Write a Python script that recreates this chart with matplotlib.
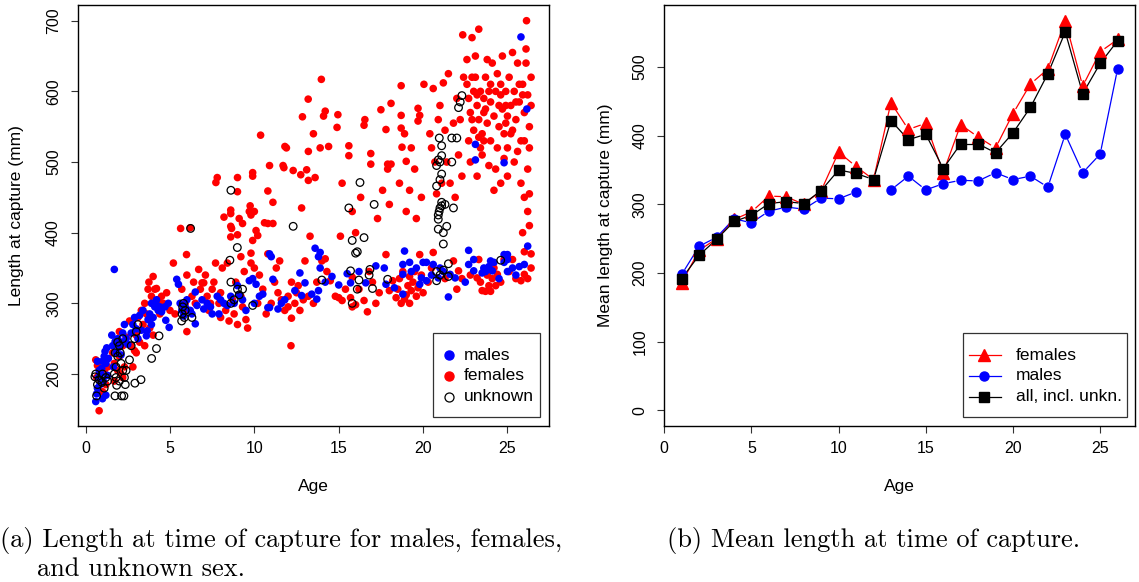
import numpy as np
import matplotlib
matplotlib.use("Agg")
import matplotlib.pyplot as plt
from matplotlib.lines import Line2D
from matplotlib.patches import Rectangle

plt.rcParams['font.family'] = ['Liberation Sans', 'DejaVu Sans']

# (age, length at capture in mm) for each fish, by sex
males = [
    (0.6, 161), (0.65, 172), (0.7, 218), (0.75, 195), (0.8, 205), (0.85, 185), (0.9, 200),
    (0.95, 208), (1.0, 218), (1.05, 190), (1.1, 225), (1.15, 232), (1.2, 215), (1.25, 237),
    (1.3, 198), (1.35, 222), (0.7, 180), (1.0, 165), (1.2, 170),
    (1.55, 255), (1.6, 240), (1.7, 348), (1.75, 246), (1.8, 230), (1.9, 250), (2.0, 238),
    (2.1, 227), (2.2, 258), (2.3, 270), (2.15, 245), (1.65, 210), (2.4, 250), (2.5, 242),
    (2.7, 258), (2.8, 270), (3.0, 264), (2.9, 280), (3.2, 283), (3.3, 262), (3.4, 290), (3.1, 250),
    (3.6, 254), (3.65, 261), (3.7, 277), (3.8, 285), (3.9, 270), (4.0, 280), (4.1, 295),
    (4.2, 298), (4.3, 290), (4.4, 295), (4.5, 288), (4.7, 295), (4.75, 276), (4.9, 300),
    (4.95, 266), (4.2, 305), (3.9, 300),
    (5.4, 334), (5.5, 327), (5.6, 300), (5.7, 290), (5.8, 282), (5.9, 295), (6.0, 305),
    (6.2, 290), (6.3, 285), (6.5, 316), (6.5, 271), (6.6, 297), (6.9, 305), (7.0, 292),
    (7.2, 300), (7.4, 295), (7.5, 285), (7.8, 310), (7.9, 285), (8.0, 305), (8.2, 300),
    (8.4, 297), (8.6, 310), (8.8, 300), (9.0, 325), (9.1, 312), (9.3, 305), (9.5, 290),
    (9.7, 332), (9.9, 335), (10.1, 327), (10.0, 300), (10.3, 310), (10.5, 313), (10.8, 294),
    (10.9, 294), (11.0, 366), (11.1, 334), (11.4, 292), (11.6, 300), (11.8, 305), (10.9, 370),
    (12.7, 343), (13.0, 329), (12.8, 311), (13.4, 313), (13.6, 378), (13.8, 366), (13.9, 372),
    (13.9, 350), (13.7, 306), (13.8, 318), (14.2, 330), (15.0, 326), (15.5, 342), (15.7, 329),
    (16.6, 329), (17.2, 353), (17.7, 350), (17.8, 327), (18.8, 355), (18.8, 341), (18.8, 313),
    (18.9, 374), (19.2, 358), (19.6, 350), (19.8, 327), (20.0, 358), (20.2, 358), (19.9, 336),
    (20.2, 332), (20.6, 355), (21.0, 350), (20.9, 336), (21.6, 341), (21.9, 336), (21.5, 309),
    (19.3, 345), (20.5, 340), (21.2, 345), (12.4, 318), (14.6, 338), (16.2, 345), (18.3, 322),
    (22.7, 375), (22.7, 355), (23.0, 346), (23.5, 343), (23.6, 350), (23.7, 345), (24.1, 346),
    (24.2, 358), (24.8, 369), (25.0, 369), (24.8, 358), (25.0, 345), (25.7, 352), (23.1, 525),
    (23.1, 503), (24.8, 499), (25.8, 677), (26.15, 575), (26.2, 381), (23.0, 362), (24.0, 360),
    (25.0, 362), (26.0, 355), (25.5, 340), (22.5, 330), (24.5, 335), (23.9, 352), (25.3, 350),
]

females = [
    (0.8, 148), (0.6, 220), (0.7, 212), (0.8, 200), (0.9, 192), (1.0, 175), (1.1, 205),
    (1.2, 185), (0.65, 195), (1.3, 210),
    (1.6, 230), (1.7, 215), (1.8, 245), (1.9, 205), (2.0, 225), (2.1, 200), (2.2, 240),
    (2.3, 210), (2.4, 252), (1.7, 190), (2.0, 260), (2.2, 195),
    (2.6, 275), (2.7, 240), (2.9, 233), (3.0, 255), (3.1, 280), (3.2, 245), (3.3, 290),
    (3.4, 270), (3.5, 300), (3.6, 285), (3.7, 320), (3.75, 330), (3.8, 265), (3.9, 310),
    (4.0, 338), (4.1, 320), (4.2, 321), (4.3, 305), (4.4, 285), (4.5, 310), (3.5, 240),
    (4.0, 255), (2.8, 210), (3.0, 230), (4.6, 300), (4.8, 315), (5.0, 290), (5.2, 357), (5.3, 285),
    (5.63, 406), (5.98, 369), (5.7, 320), (5.9, 300), (6.0, 260), (6.1, 290), (6.3, 310),
    (6.5, 300), (6.7, 348), (6.8, 320), (6.9, 329), (7.0, 329), (7.1, 340), (7.2, 310),
    (7.3, 290), (7.4, 300), (6.2, 407), (6.0, 340), (7.5, 320), (6.4, 330),
    (7.7, 357), (7.72, 471), (8.1, 350), (8.4, 357), (7.8, 478), (9.0, 478), (9.0, 458),
    (8.2, 422), (8.6, 427), (8.6, 432), (9.1, 420), (9.3, 413), (8.6, 409), (8.65, 406),
    (8.6, 394), (9.0, 397), (9.7, 430), (9.75, 438), (9.8, 425), (9.9, 485), (9.9, 480),
    (10.0, 430), (10.1, 403), (9.9, 389), (10.2, 396), (9.2, 366), (9.8, 371), (9.8, 357),
    (7.9, 300), (8.0, 280), (8.3, 290), (8.5, 275), (8.8, 285), (9.0, 270), (9.3, 295),
    (9.5, 277), (9.6, 265), (8.0, 315), (8.7, 305), (9.2, 310), (7.6, 330), (8.9, 330),
    (9.4, 345), (10.0, 350), (10.3, 340), (10.5, 320), (10.2, 300),
    (10.37, 538), (10.9, 495), (11.7, 495), (11.75, 492), (11.9, 520), (10.8, 459), (11.1, 443),
    (10.6, 414), (10.8, 413), (11.1, 413), (10.8, 370), (11.81, 522), (12.3, 488), (11.2, 330),
    (11.4, 315), (11.6, 305), (11.8, 290), (12.0, 310), (11.0, 300), (10.7, 285), (11.3, 350),
    (11.5, 360), (12.17, 240), (12.2, 279), (12.4, 300), (12.5, 315), (12.6, 325), (12.9, 305),
    (12.2, 330), (12.0, 295), (12.7, 290), (13.2, 310), (13.5, 300),
    (12.85, 564), (12.8, 435), (12.75, 482), (13.1, 489), (13.2, 474), (13.2, 515), (13.6, 478),
    (13.19, 589), (13.97, 617), (14.1, 565), (14.2, 572), (13.9, 520), (14.4, 522), (14.9, 549),
    (14.95, 567), (13.5, 540), (14.0, 360), (14.2, 363), (14.5, 332), (13.7, 330), (14.3, 345),
    (14.8, 310), (13.3, 395), (13.0, 360),
    (15.6, 523), (15.6, 509), (16.9, 512), (16.9, 497), (16.5, 552), (16.55, 560), (17.5, 574),
    (17.8, 546), (17.9, 497), (18.1, 497), (17.9, 490), (18.1, 583), (15.2, 470), (15.8, 430),
    (16.3, 450), (17.3, 420), (15.1, 395), (16.0, 400), (17.6, 460), (18.0, 440),
    (15.0, 308), (15.2, 304), (15.7, 308), (15.8, 295), (15.8, 337), (16.7, 288), (16.5, 304),
    (16.2, 320), (17.0, 330), (17.8, 369), (18.2, 332), (18.4, 308), (16.8, 345), (17.4, 315),
    (15.4, 320), (16.0, 298), (17.2, 300), (18.0, 318),
    (18.7, 608), (18.7, 566), (18.7, 548), (18.9, 540), (18.75, 521), (19.0, 501), (19.7, 576),
    (19.7, 558), (19.8, 566), (20.05, 610), (19.2, 460), (19.5, 490), (19.9, 450), (19.0, 430),
    (19.6, 420), (18.6, 470), (19.3, 520),
    (18.9, 306), (18.5, 320), (18.6, 335), (18.8, 345), (19.0, 312), (19.1, 325), (19.2, 338),
    (19.3, 318), (19.4, 330), (19.5, 345), (19.6, 310), (19.7, 322), (19.8, 369), (19.9, 340),
    (20.0, 315), (18.7, 300), (19.2, 300), (20.3, 330),
    (20.6, 604), (21.2, 612), (21.5, 625), (22.35, 680), (20.4, 540), (20.5, 520), (20.7, 500),
    (20.9, 560), (21.0, 580), (21.3, 545), (21.4, 500), (21.6, 470), (21.8, 555), (22.0, 590),
    (22.1, 510), (22.2, 560), (20.8, 455), (21.9, 450), (22.3, 480), (22.4, 620), (21.1, 470),
    (20.6, 372), (22.1, 346), (20.5, 350), (21.3, 335), (22.0, 320), (22.3, 335), (21.8, 360),
    (22.9, 676), (23.3, 688), (26.13, 700), (22.6, 610), (22.7, 590), (22.8, 570), (22.9, 560),
    (23.0, 600), (23.0, 545), (23.1, 620), (23.2, 580), (23.3, 560), (23.4, 600), (23.5, 540),
    (23.6, 590), (23.6, 570), (23.7, 620), (23.8, 555), (23.9, 600), (24.0, 530), (24.0, 585),
    (24.1, 640), (24.2, 565), (24.3, 600), (24.4, 520), (24.5, 580), (24.5, 550), (24.6, 610),
    (24.7, 575), (24.8, 540), (24.9, 600), (25.0, 565), (25.0, 520), (25.1, 620), (25.2, 580),
    (25.3, 545), (25.4, 600), (25.5, 560), (25.6, 640), (25.7, 585), (25.8, 530), (25.9, 610),
    (26.0, 570), (26.1, 640), (26.2, 595), (26.3, 550), (26.4, 620), (26.3, 520), (22.8, 500),
    (23.2, 480), (23.5, 510), (23.9, 495), (24.3, 490), (24.6, 470), (25.0, 480), (25.4, 500),
    (25.8, 470), (26.2, 490), (24.2, 460), (26.3, 455), (23.4, 520), (24.8, 505), (25.6, 515),
    (22.7, 530), (26.1, 660), (25.3, 655), (24.7, 650), (23.8, 645), (23.1, 650), (22.6, 645),
    (25.9, 595), (24.4, 625), (23.6, 530), (25.2, 540), (26.4, 580), (22.9, 620), (24.0, 610),
    (25.7, 610), (26.0, 530), (23.3, 535), (24.9, 555), (26.2, 430), (26.3, 410), (26.0, 450),
    (25.9, 400), (26.4, 370), (23.7, 575), (24.6, 595), (25.5, 585), (23.2, 595), (24.9, 580),
    (23.3, 362), (23.2, 336), (23.4, 330), (23.5, 318), (23.7, 317), (24.0, 317), (23.8, 340),
    (24.1, 335), (24.3, 325), (24.4, 341), (24.8, 362), (25.3, 362), (25.8, 332), (26.0, 341),
    (26.0, 373), (23.6, 345), (24.6, 330), (25.5, 335), (26.2, 335), (22.8, 340), (24.2, 350),
    (25.1, 345), (26.4, 350), (23.9, 325),
]

unknown = [
    (0.55, 196), (0.65, 169), (0.97, 188), (0.8, 192), (1.0, 200), (1.2, 195), (1.3, 190),
    (0.7, 185), (1.1, 180), (0.6, 200),
    (1.74, 169), (2.13, 169), (2.27, 169), (1.84, 184), (1.7, 200), (1.8, 210), (1.9, 225),
    (2.0, 240), (2.1, 215), (2.2, 205), (1.75, 230), (2.3, 195), (2.4, 205), (2.0, 190),
    (1.9, 245), (2.2, 250), (2.05, 230), (1.8, 195), (2.35, 185),
    (2.92, 187), (3.28, 192), (3.91, 222), (4.2, 236), (4.35, 254), (2.7, 240), (3.0, 260),
    (3.1, 270), (2.9, 250), (2.6, 220),
    (5.69, 275), (5.72, 285), (5.75, 295), (5.8, 300), (5.85, 280), (6.3, 280), (6.22, 406), (5.9, 290),
    (8.55, 361), (8.61, 330), (8.61, 300), (8.8, 305), (9.0, 320), (9.3, 320), (9.1, 312),
    (9.9, 297), (8.61, 460), (8.99, 379),
    (12.3, 409), (14.0, 333), (15.6, 435), (15.8, 389), (16.0, 371), (16.26, 471), (16.5, 393),
    (17.1, 440), (16.1, 373), (15.7, 346), (16.1, 320), (16.2, 333), (16.8, 340), (16.85, 348),
    (17.0, 321), (15.8, 300), (17.9, 334),
    (22.1, 577), (22.3, 594), (22.2, 585), (20.96, 534), (21.1, 523), (21.7, 534), (22.0, 534),
    (21.1, 509), (20.8, 495), (20.9, 503), (21.0, 500), (21.7, 500), (21.1, 483), (21.0, 475),
    (20.8, 466), (21.1, 438), (21.1, 443), (21.3, 440), (20.9, 425), (21.0, 435), (20.95, 430),
    (21.8, 435), (20.9, 419), (21.4, 409), (20.9, 405), (21.2, 400), (21.2, 384), (21.5, 356),
    (20.8, 332), (21.0, 340), (21.2, 347), (20.8, 345), (21.5, 338), (24.6, 361),
]

# mean length at capture per age class
ages = list(range(1, 27))
female_mean = [186, 233, 250, 278, 289, 312, 311, 300, 320, 376, 355, 336, 448,
               409, 418, 346, 416, 398, 382, 432, 475, 497, 567, 472, 522, 540]
male_mean = [198, 239, 252, 279, 273, 290, 296, 293, 309, 308, 318, np.nan, 321,
             341, 321, 330, 335, 334, 346, 336, 341, 325, 402, 346, 373, 497]
all_mean = [192, 226, 249, 275, 284, 301, 304, 301, 320, 350, 345, 336, 422,
            394, 402, 352, 388, 388, 375, 404, 441, 490, 551, 461, 505, 538]

W, H = 1139, 582
fig = plt.figure(figsize=(W / 100, H / 100), dpi=100)


def fx(x):
    return x / W


def fy(y):
    return 1 - y / H


def px_axes(l, t, r, b):
    return fig.add_axes([fx(l), fy(b), (r - l) / W, (b - t) / H])


def style_axes(ax):
    for s in ax.spines.values():
        s.set_linewidth(1.0)
        s.set_color('black')
    ax.tick_params(direction='out', length=5, width=0.8, color='#333333',
                   labelsize=11.5, pad=6)
    ax.tick_params(axis='y', labelrotation=90, pad=7)
    for lab in ax.get_yticklabels():
        lab.set_va('center')


def gapped_line(ax, x, y, color, gap=6.0, lw=0.9):
    # lines between points with a small gap around each marker
    pts = ax.transData.transform(np.column_stack([x, y]))
    inv = ax.transData.inverted()
    for p0, p1 in zip(pts[:-1], pts[1:]):
        if np.isnan(p0).any() or np.isnan(p1).any():
            continue
        d = p1 - p0
        L = np.hypot(d[0], d[1])
        if L <= 2 * gap:
            continue
        u = d / L
        a = inv.transform(p0 + u * gap)
        b = inv.transform(p1 - u * gap)
        ax.plot([a[0], b[0]], [a[1], b[1]], color=color, lw=lw, zorder=2)


def box_legend(x0, y0, x1, y1, rows, mark_x, text_x, line=None):
    # framed key drawn in figure pixel positions
    fig.add_artist(Rectangle((fx(x0), fy(y1)), (x1 - x0) / W, (y1 - y0) / H,
                             transform=fig.transFigure, facecolor='white',
                             edgecolor='#333333', lw=0.9, zorder=5))
    for yy, label, style in rows:
        if line is not None:
            fig.add_artist(Line2D([fx(line[0]), fx(line[1])], [fy(yy), fy(yy)],
                                  transform=fig.transFigure, color=style['color'],
                                  lw=0.9, zorder=6))
        fig.add_artist(Line2D([fx(mark_x)], [fy(yy)], transform=fig.transFigure,
                              ls='none', zorder=7, **style))
        fig.text(fx(text_x), fy(yy), label, fontsize=12.5, va='center', ha='left', zorder=7)


# left panel: individual lengths
ax1 = px_axes(77.7, 5.3, 549.3, 426)
f_age, f_len = zip(*females)
m_age, m_len = zip(*males)
u_age, u_len = zip(*unknown)
ax1.scatter(f_age, f_len, s=30, color='red', edgecolors='none', zorder=3)
ax1.scatter(m_age, m_len, s=30, color='blue', edgecolors='none', zorder=3)
ax1.scatter(u_age, u_len, s=30, facecolors='none', edgecolors='black', linewidths=0.9, zorder=4)
ax1.set_xlim(-0.47, 27.48)
ax1.set_ylim(126.4, 721.8)
ax1.set_xticks([0, 5, 10, 15, 20, 25])
ax1.set_yticks([200, 300, 400, 500, 600, 700])
ax1.set_xlabel('Age', fontsize=12.5, labelpad=16)
ax1.set_ylabel('Length at capture (mm)', fontsize=12.5, labelpad=16)
style_axes(ax1)
box_legend(433.3, 332.7, 540.3, 417.3,
           [(355.3, 'males', dict(marker='o', ms=6.5, color='blue', mec='blue')),
            (376.0, 'females', dict(marker='o', ms=6.5, color='red', mec='red')),
            (396.7, 'unknown', dict(marker='o', ms=6.5, mfc='none', mec='black', mew=0.9,
                                    color='black'))],
           mark_x=449, text_x=464)

# right panel: mean length by age
ax2 = px_axes(664.3, 5.3, 1135, 426)
ax2.set_xlim(0, 27)
ax2.set_ylim(-22.7, 589.7)
ax2.set_xticks([0, 5, 10, 15, 20, 25])
ax2.set_yticks([0, 100, 200, 300, 400, 500])
gapped_line(ax2, ages, female_mean, 'red')
ax2.plot(ages, female_mean, ls='none', marker='^', ms=8.5, color='red', zorder=3)
gapped_line(ax2, ages, male_mean, 'blue')
ax2.plot(ages, male_mean, ls='none', marker='o', ms=6.5, color='blue', zorder=3)
gapped_line(ax2, ages, all_mean, 'black')
ax2.plot(ages, all_mean, ls='none', marker='s', ms=6.5, color='black', zorder=3)
ax2.set_xlabel('Age', fontsize=12.5, labelpad=16)
ax2.set_ylabel('Mean length at capture (mm)', fontsize=12.5, labelpad=14)
style_axes(ax2)
box_legend(963.2, 332.7, 1127.1, 417.3,
           [(355.3, 'females', dict(marker='^', ms=8.5, color='red', mec='red')),
            (376.0, 'males', dict(marker='o', ms=6.5, color='blue', mec='blue')),
            (396.7, 'all, incl. unkn.', dict(marker='s', ms=6.5, color='black', mec='black'))],
           mark_x=984, text_x=1015.7, line=(968.6, 1000.7))

# sub-figure captions
cap = dict(family='cmr10', fontsize=19, va='center', ha='left')
fig.text(fx(0), fy(541), '(a) Length at time of capture for males, females,', **cap)
fig.text(fx(37), fy(569), 'and unknown sex.', **cap)
fig.text(fx(667), fy(541), '(b) Mean length at time of capture.', **cap)

fig.savefig('out.png', dpi=100)
